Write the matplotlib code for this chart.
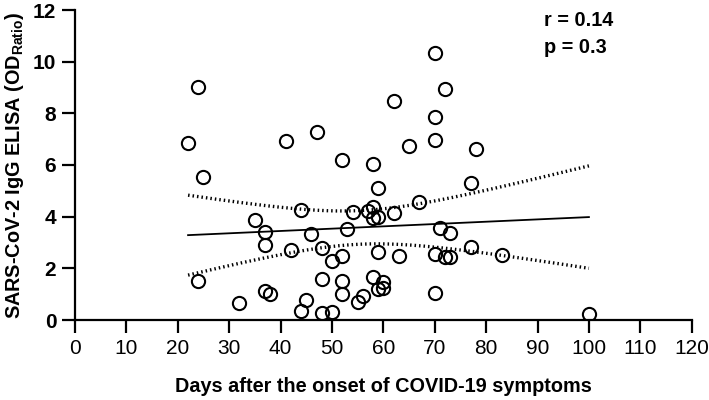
import matplotlib.pyplot as plt
import numpy as np

plt.rcParams['font.family'] = ['Liberation Sans', 'DejaVu Sans']
plt.rcParams['mathtext.fontset'] = 'custom'
plt.rcParams['mathtext.rm'] = 'Liberation Sans:bold'
plt.rcParams['mathtext.bf'] = 'Liberation Sans:bold'

# days after onset vs IgG ELISA OD ratio
days = [22, 24, 24, 25, 32, 35, 37, 37, 37, 38, 41, 42, 44, 44, 45, 46, 47, 48, 48, 48,
        50, 50, 52, 52, 52, 52, 53, 54, 55, 56, 57, 58, 58, 58, 58, 59, 59, 59, 59, 60,
        60, 62, 62, 63, 65, 67, 70, 70, 70, 70, 70, 71, 72, 72, 73, 73, 77, 77, 78, 83, 100]
od_ratio = [6.84, 9.0, 1.51, 5.55, 0.65, 3.87, 3.42, 2.9, 1.14, 1.0, 6.94, 2.71, 4.26, 0.36,
            0.76, 3.32, 7.27, 2.77, 1.6, 0.28, 2.29, 0.32, 6.21, 2.49, 1.51, 1.0, 3.51, 4.19,
            0.71, 0.94, 4.23, 6.04, 4.36, 3.94, 1.68, 5.12, 4.0, 2.62, 1.19, 1.48, 1.23, 8.49,
            4.13, 2.48, 6.75, 4.58, 10.32, 7.87, 6.97, 2.55, 1.06, 3.57, 8.93, 2.43, 3.35,
            2.45, 5.29, 2.84, 6.62, 2.5, 0.25]
r_text = 'r = 0.14'
p_text = 'p = 0.3'

x = np.array(days, dtype=float)
y = np.array(od_ratio)

# linear fit with 95% confidence band of the mean
n = len(x)
slope, intercept = np.polyfit(x, y, 1)
xs = np.linspace(x.min(), x.max(), 200)
ys = intercept + slope * xs
resid = y - (intercept + slope * x)
s = np.sqrt(np.sum(resid ** 2) / (n - 2))
t = 2.0003  # t(0.975, df=59)
se = s * np.sqrt(1 / n + (xs - x.mean()) ** 2 / np.sum((x - x.mean()) ** 2))

fig = plt.figure(figsize=(7.09, 4.0), dpi=100)
ax = fig.add_axes([0.1058, 0.2, 0.8698, 0.775])

ax.plot(x, y, 'o', ms=9.5, mfc='none', mec='black', mew=1.5, zorder=3)
ax.plot(xs, ys, color='black', lw=1.3)
ax.plot(xs, ys + t * se, color='black', lw=2.4, ls=(0, (0.45, 0.9)))
ax.plot(xs, ys - t * se, color='black', lw=2.4, ls=(0, (0.45, 0.9)))

ax.set_xlim(0, 120)
ax.set_ylim(0, 12)
ax.set_xticks(np.arange(0, 121, 10))
ax.set_yticks(np.arange(0, 13, 2))
for sp in ['top', 'right']:
    ax.spines[sp].set_visible(False)
for sp in ['left', 'bottom']:
    ax.spines[sp].set_linewidth(1.6)
ax.tick_params(direction='out', length=9.5, width=1.6, labelsize=15, pad=4)
for lab in ax.get_yticklabels():
    lab.set_fontweight('bold')

ax.set_xlabel('Days after the onset of COVID-19 symptoms', fontsize=14.3,
              fontweight='bold', labelpad=14)
ax.set_ylabel(r'SARS-CoV-2 IgG ELISA (OD$_{\mathbf{Ratio}}$)', fontsize=14.3,
              fontweight='bold', labelpad=5)

ax.text(91.2, 11.6, r_text, fontsize=14.3, fontweight='bold', va='center')
ax.text(91.2, 10.55, p_text, fontsize=14.3, fontweight='bold', va='center')

fig.savefig('out.png', dpi=100)
